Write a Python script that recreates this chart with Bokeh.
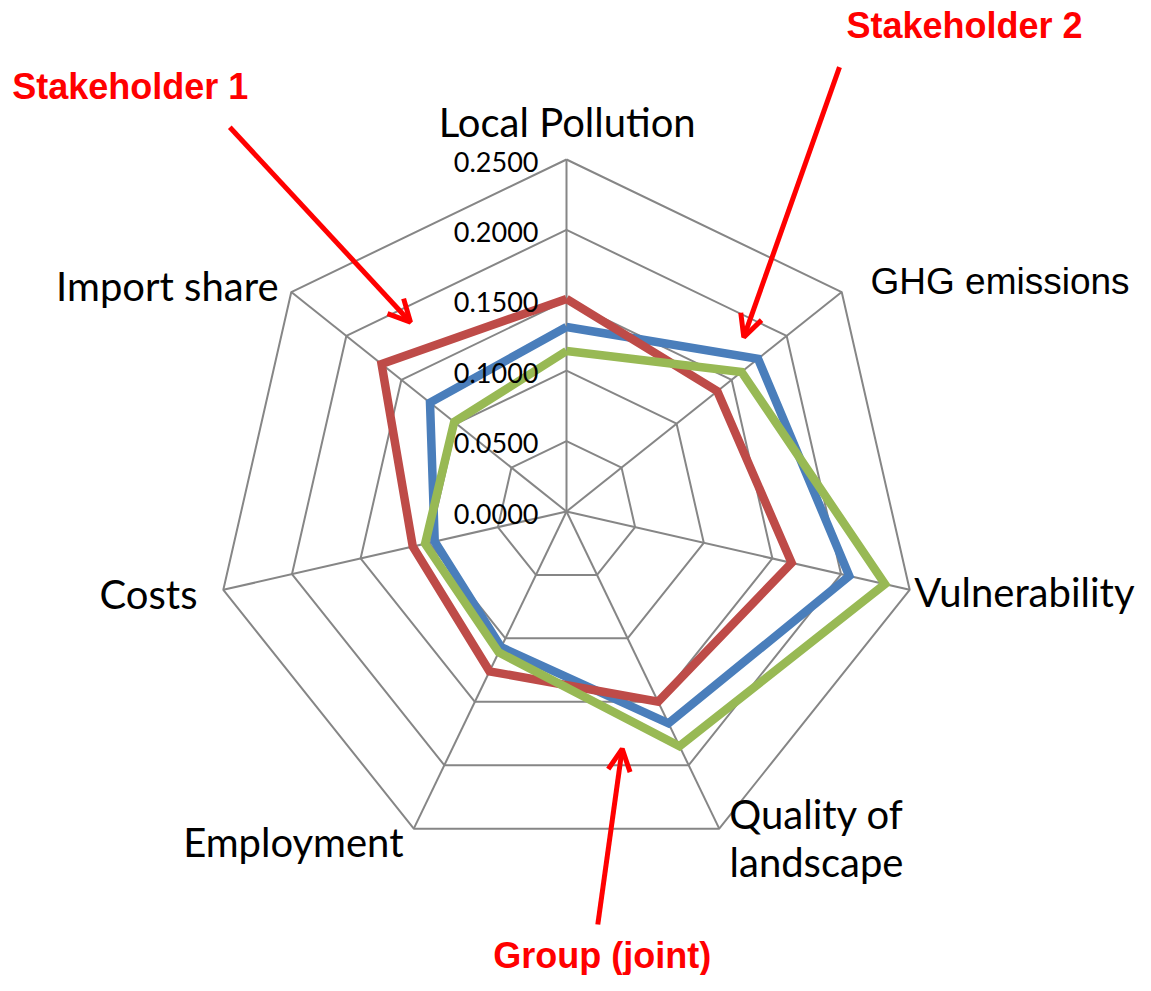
import numpy as np
from bokeh.plotting import figure
from bokeh.models import Range1d, Arrow, OpenHead
from bokeh.core.properties import value
from bokeh.embed import file_html
from bokeh.resources import INLINE

# ---------------- data ----------------
categories = ["Local Pollution", "GHG emissions", "Vulnerability",
              "Quality of landscape", "Employment", "Costs", "Import share"]
stakeholder_1 = [0.151, 0.137, 0.164, 0.150, 0.126, 0.112, 0.168]   # red
stakeholder_2 = [0.131, 0.174, 0.206, 0.167, 0.107, 0.096, 0.124]   # blue
group_joint = [0.114, 0.159, 0.232, 0.185, 0.111, 0.103, 0.102]     # green
tick_values = [0.0, 0.05, 0.10, 0.15, 0.20, 0.25]
tick_labels = ["0.0000", "0.0500", "0.1000", "0.1500", "0.2000", "0.2500"]

# ---------------- layout ----------------
W, H = 1135, 975
CX, CY = 566, 511          # centre of the radar in canvas pixels
S = 1408.0                 # pixels per data unit
r_max = max(tick_values)
BASE_SHIFT = 0.33          # em correction for the svg text baseline

def pix(x, y):
    """canvas pixel -> data coordinates"""
    return ((x - CX) / S, (CY - y) / S)

n = len(categories)
angles = np.pi / 2 - 2 * np.pi * np.arange(n) / n

p = figure(width=W, height=H, output_backend="svg", toolbar_location=None,
           x_range=Range1d(-CX / S, (W - CX) / S),
           y_range=Range1d(-(H - CY) / S, CY / S),
           min_border=0, background_fill_color="white",
           border_fill_color="white")
p.axis.visible = False
p.grid.visible = False
p.outline_line_color = None

grid_color = "#868686"

# rings
ring_xs, ring_ys = [], []
for t in tick_values[1:]:
    ring_xs.append(list(np.append(t * np.cos(angles), t * np.cos(angles[0]))))
    ring_ys.append(list(np.append(t * np.sin(angles), t * np.sin(angles[0]))))
p.multi_line(ring_xs, ring_ys, line_color=grid_color, line_width=2)

# spokes
p.multi_line([[0, r_max * np.cos(a)] for a in angles],
             [[0, r_max * np.sin(a)] for a in angles],
             line_color=grid_color, line_width=2)

# series
def closed(vals):
    v = np.array(vals + vals[:1])
    a = np.append(angles, angles[0])
    return v * np.cos(a), v * np.sin(a)

for vals, col in [(stakeholder_2, "#4A7EBB"), (stakeholder_1, "#BE4B48"),
                  (group_joint, "#98B954")]:
    xs, ys = closed(vals)
    p.line(xs, ys, line_color=col, line_width=8.5, line_join="miter")

# tick labels (baseline 11 px below each ring's top vertex)
tick_fs = 27
p.text(x=[-28 / S] * len(tick_values),
       y=[t - (11 - BASE_SHIFT * tick_fs) / S for t in tick_values],
       text=tick_labels, text_font=value("Lato"), text_font_size=f"{tick_fs}px",
       text_align="right", text_baseline="alphabetic", text_color="black")

# category labels
def label(txt, x, y, align, font="Lato", size=40, color="black", style="normal"):
    dx, dy = pix(x, y - BASE_SHIFT * size)
    p.text(x=[dx], y=[dy], text=[txt], text_font=value(font),
           text_font_size=f"{size}px", text_font_style=style,
           text_align=align, text_baseline="alphabetic", text_color=color)

label(categories[0], 566.7, 135, "center")
label(categories[1], 870, 293.3, "left", font="Liberation Sans", size=37)
label(categories[2], 1134, 605, "right")
label("Quality of", 816, 826.7, "center")
label("landscape", 816, 875, "center")
label(categories[4], 403, 855, "right")
label(categories[5], 197, 606.7, "right")
label(categories[6], 278, 298.3, "right")

# annotations
red = "#FF0000"
def note(txt, x, y):
    label(txt, x, y, "left", font="Liberation Sans", size=36, color=red,
          style="bold")

note("Stakeholder 1", 11.7, 97.7)
note("Stakeholder 2", 846, 36.7)
note("Group (joint)", 492.7, 967)

def arrow(x0, y0, x1, y1):
    a0 = pix(x0, y0)
    a1 = pix(x1, y1)
    p.add_layout(Arrow(x_start=a0[0], y_start=a0[1], x_end=a1[0], y_end=a1[1],
                       line_color=red, line_width=5,
                       end=OpenHead(size=22, line_width=5, line_color=red)))

arrow(229.3, 126.7, 410, 321.7)
arrow(839, 66.7, 743.3, 336.7)
arrow(597.3, 924, 621.7, 748.3)

open("out.html", "w").write(file_html(p, INLINE))
